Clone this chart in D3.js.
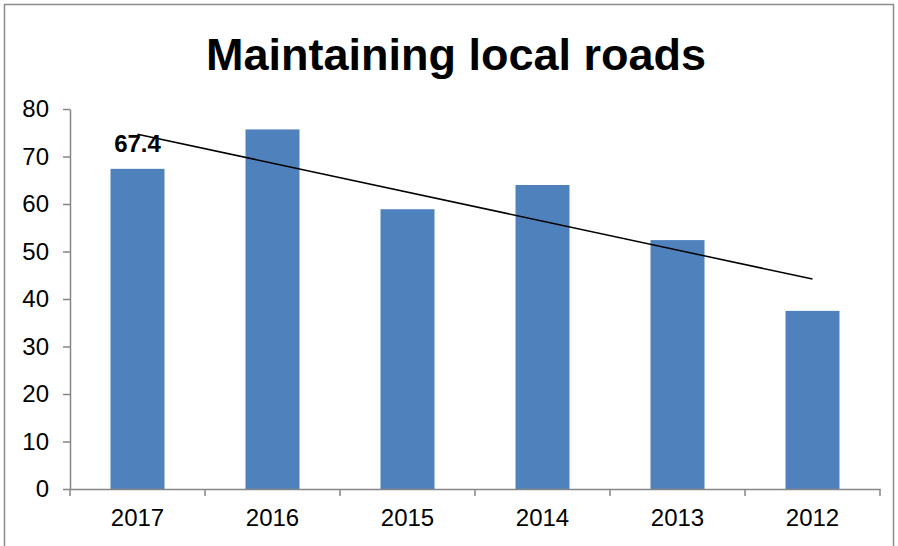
<!DOCTYPE html>
<html>
<head>
<meta charset="utf-8">
<script src="https://cdn.jsdelivr.net/npm/d3@7"></script>
<style>
  body { margin: 0; background: #fff; }
  text { font-family: "Liberation Sans", Arial, sans-serif; }
</style>
</head>
<body>
<div id="container"></div>
<script>
/* DATA */
const years = ["2017", "2016", "2015", "2014", "2013", "2012"];
const values = [67.4, 75.7, 58.9, 64.0, 52.4, 37.5];
const yTicks = [0, 10, 20, 30, 40, 50, 60, 70, 80];
// linear trend line, start and end values
const trendYears = ["2017", "2012"];
const trendValues = [74.7, 44.2];
const title = "Maintaining local roads";

/* CONSTANTS */
const width = 898,
      height = 546,
      plotLeft = 70,
      plotRight = 880,
      plotTop = 109,
      plotBottom = 489;

const svg = d3.select("#container")
  .append("svg")
  .attr("width", width)
  .attr("height", height);

// chart border
svg.append("rect")
  .attr("x", 4.5).attr("y", 4.5)
  .attr("width", 889).attr("height", 580)
  .attr("fill", "none")
  .attr("stroke", "#8c8c8c")
  .attr("stroke-width", 1.5);

// title
svg.append("text")
  .attr("x", 456).attr("y", 70)
  .attr("text-anchor", "middle")
  .attr("font-size", 45)
  .attr("font-weight", "bold")
  .text(title);

/* SCALES */
const xScale = d3.scaleBand()
  .domain(years)
  .range([plotLeft, plotRight])
  .paddingInner(0.6)
  .paddingOuter(0.3);

const xBand = d3.scaleBand()
  .domain(years)
  .range([plotLeft, plotRight]);

const yScale = d3.scaleLinear()
  .domain([0, 80])
  .range([plotBottom, plotTop]);

/* BARS */
svg.append("g")
  .selectAll("rect")
  .data(values)
  .join("rect")
    .attr("x", (d, i) => xScale(years[i]))
    .attr("y", d => yScale(d))
    .attr("width", xScale.bandwidth())
    .attr("height", d => yScale(0) - yScale(d))
    .attr("fill", "#4f81bd");

/* AXES */
const gy = svg.append("g")
  .attr("transform", `translate(${plotLeft}, 0)`)
  .call(d3.axisLeft(yScale).tickValues(yTicks).tickSize(7).tickSizeOuter(0).tickPadding(14));

const gx = svg.append("g")
  .attr("transform", `translate(0, ${plotBottom})`)
  .call(d3.axisBottom(xBand).tickSize(0).tickSizeOuter(0).tickPadding(20));

// ticks between categories
gx.selectAll(".sep")
  .data(d3.range(years.length + 1))
  .join("line")
  .attr("class", "sep")
  .attr("x1", i => plotLeft + i * xBand.step())
  .attr("x2", i => plotLeft + i * xBand.step())
  .attr("y1", 0).attr("y2", 7)
  .attr("stroke", "#868686")
  .attr("stroke-width", 1.5);

[gx, gy].forEach(g => {
  g.select(".domain").attr("stroke", "#868686").attr("stroke-width", 1.5);
  g.selectAll(".tick line").attr("stroke", "#868686").attr("stroke-width", 1.5);
  g.selectAll(".tick text")
    .attr("font-size", 24)
    .attr("fill", "#000")
    .style("font-family", "'Liberation Sans', Arial, sans-serif");
});
gx.selectAll(".tick text").attr("dy", "0.71em");

/* TREND LINE */
svg.append("line")
  .attr("x1", xBand(trendYears[0]) + xBand.bandwidth() / 2)
  .attr("y1", yScale(trendValues[0]))
  .attr("x2", xBand(trendYears[1]) + xBand.bandwidth() / 2)
  .attr("y2", yScale(trendValues[1]))
  .attr("stroke", "#000")
  .attr("stroke-width", 1.5);

/* DATA LABEL */
svg.append("text")
  .attr("x", xBand(years[0]) + xBand.bandwidth() / 2)
  .attr("y", 152)
  .attr("text-anchor", "middle")
  .attr("font-size", 24)
  .attr("font-weight", "bold")
  .text(values[0]);
</script>
</body>
</html>
